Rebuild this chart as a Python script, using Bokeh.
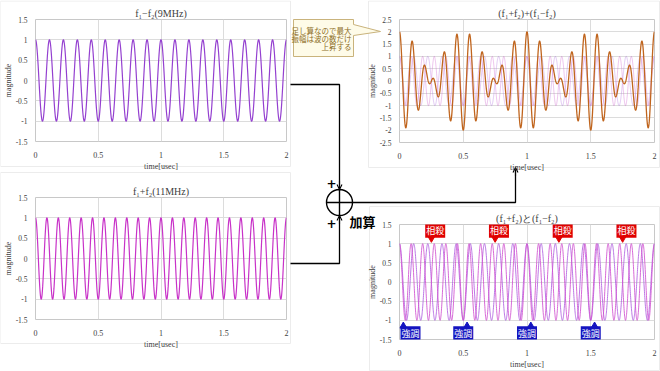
import numpy as np
from bokeh.plotting import figure
from bokeh.layouts import column
from bokeh.models import Range1d, FixedTicker, GridBox, Label, Arrow, OpenHead
from bokeh.embed import file_html
from bokeh.resources import INLINE
from bokeh.core.properties import value

# ---------------- data ----------------
F_DIFF_MHZ = 9.0          # f1 - f2  (9 MHz)
F_SUM_MHZ = 11.0          # f1 + f2  (11 MHz)
T_START_US = 0.0
T_END_US = 2.0
N_SAMPLES = 2001

X_TICKS = [0, 0.5, 1, 1.5, 2]
X_TICK_LABELS = ["0", "0.5", "1", "1.5", "2"]
Y_TICKS_15 = [-1.5, -1, -0.5, 0, 0.5, 1, 1.5]
Y_TICK_LABELS_15 = ["-1.5", "-1", "-0.5", "0", "0.5", "1", "1.5"]
Y_TICKS_25 = [-2.5, -2, -1.5, -1, -0.5, 0, 0.5, 1, 1.5, 2, 2.5]
Y_TICK_LABELS_25 = ["-2.5", "-2", "-1.5", "-1", "-0.5", "0", "0.5", "1", "1.5", "2", "2.5"]

TITLE_DIFF = "f\u2081\u2212f\u2082(9MHz)"
TITLE_SUM = "f\u2081+f\u2082(11MHz)"
TITLE_TOTAL = "(f\u2081+f\u2082)+(f\u2081\u2212f\u2082)"
TITLE_BOTH = "(f\u2081+f\u2082)\u3068(f\u2081\u2212f\u2082)"

CANCEL_T = [0.25, 0.75, 1.25, 1.75]      # 相殺
REINFORCE_T = [0.0, 0.5, 1.0, 1.5]       # 強調
CANCEL_TEXT = "相殺"
REINFORCE_TEXT = "強調"
CALLOUT_LINES = ["足し算なので最大", "振幅は波の数だけ", "上昇する"]

t = np.linspace(T_START_US, T_END_US, N_SAMPLES)
wave_diff = np.cos(2 * np.pi * F_DIFF_MHZ * t)
wave_sum = np.cos(2 * np.pi * F_SUM_MHZ * t)
wave_total = wave_diff + wave_sum

# ---------------- layout helpers ----------------
W, H = 660, 371
SERIF = "Liberation Serif"
CJK = "Noto Sans CJK JP"


def make_chart(frame, ylim, yticks, ylabels, title):
    fx0, fy0, fx1, fy1 = frame
    p = figure(width=W, height=H, output_backend="svg", toolbar_location=None,
               x_range=Range1d(0, 2), y_range=Range1d(*ylim),
               min_border_left=fx0, min_border_right=W - fx1,
               min_border_top=fy0, min_border_bottom=H - fy1)
    p.border_fill_color = None
    p.background_fill_color = "white"
    p.outline_line_color = "#c8c8c8"
    p.title.text = title
    p.title.align = "center"
    p.title.text_font = SERIF
    p.title.text_font_size = "10px"
    p.title.text_font_style = "normal"
    p.title.text_color = "#404040"
    p.title.standoff = 2
    for ax, ticks, labels, name in ((p.xaxis[0], X_TICKS, X_TICK_LABELS, "time[usec]"),
                                    (p.yaxis[0], yticks, ylabels, "magnitude")):
        ax.ticker = FixedTicker(ticks=ticks)
        ax.major_label_overrides = {tk: lb for tk, lb in zip(ticks, labels)}
        ax.major_tick_line_color = None
        ax.minor_tick_line_color = None
        ax.axis_line_color = None
        ax.major_label_text_font = SERIF
        ax.major_label_text_font_size = "8px"
        ax.major_label_text_color = "#404040"
        ax.major_label_standoff = 4
        ax.axis_label = name
        ax.axis_label_text_font = SERIF
        ax.axis_label_text_font_size = "8px"
        ax.axis_label_text_font_style = "normal"
        ax.axis_label_text_color = "#404040"
        ax.axis_label_standoff = 1
    p.yaxis.major_label_standoff = 2
    p.yaxis.axis_label_standoff = 0
    p.yaxis.major_label_text_font_size = "7.5px"
    p.grid.grid_line_color = "#dcdcdc"
    p.grid.grid_line_width = 1
    return p


# ---------------- background diagram ----------------
bg = figure(width=W, height=H, output_backend="svg", toolbar_location=None,
            title=None, x_range=Range1d(0, W), y_range=Range1d(H, 0),
            x_axis_type=None, y_axis_type=None,
            min_border=0, min_border_left=0, min_border_right=0,
            min_border_top=0, min_border_bottom=0)
bg.outline_line_color = None
bg.background_fill_color = "white"
bg.border_fill_color = "white"

# faint chart panels
bg.quad(left=[0, 0, 368, 369], right=[290, 290, 659, 659], top=[0.5, 172, 0.5, 206],
        bottom=[166, 343, 167, 370], fill_color=None, line_color="#ececec", line_width=1)

# connectors
bg.line([290, 339, 339], [84, 84, 188], line_color="black", line_width=1.3)
bg.line([290, 339, 339], [263, 263, 216], line_color="black", line_width=1.3)
bg.line([352, 515, 515], [202, 202, 168], line_color="black", line_width=1.3)
for ys, ye, xe in ((180, 189, 339), (224, 215, 339), (176, 167, 515)):
    bg.add_layout(Arrow(end=OpenHead(size=5, line_width=1.1, line_color="black"),
                        x_start=xe, y_start=ys, x_end=xe, y_end=ye,
                        line_color="black", line_width=1.1))
bg.scatter([339], [202], marker="circle_cross", size=26, fill_color="white",
           line_color="black", line_width=1.4)
bg.text(x=[331, 331], y=[183, 223], text=["+", "+"], text_font=value("DejaVu Sans"),
        text_font_size="12px", text_font_style="bold", text_align="center",
        text_baseline="middle", text_color="black")
bg.text(x=[362], y=[221], text=["加算"], text_font=value(CJK), text_font_size="13px",
        text_font_style="bold", text_align="center", text_baseline="middle", text_color="black")

# callout
bg.patch(x=[293, 353, 353, 380, 353, 353, 293], y=[19, 19, 24, 31, 35, 56, 56],
         fill_color="#fefbe8", line_color="#c9b37c", line_width=1)
bg.text(x=[351, 351, 351], y=[30, 38, 46], text=CALLOUT_LINES, text_font=value(CJK),
        text_font_size="7.5px", text_align="right", text_baseline="middle", text_color="#8c6d1f")

# ---------------- charts ----------------
tl = make_chart((31, 19, 286, 141), (-1.5, 1.5), Y_TICKS_15, Y_TICK_LABELS_15, TITLE_DIFF)
tl.line(t, wave_diff, line_color="#9440d0", line_width=1.2)

bl = make_chart((31, 197, 286, 319), (-1.5, 1.5), Y_TICKS_15, Y_TICK_LABELS_15, TITLE_SUM)
bl.line(t, wave_sum, line_color="#c832c8", line_width=1.2)

tr = make_chart((399, 19, 654, 142), (-2.5, 2.5), Y_TICKS_25, Y_TICK_LABELS_25, TITLE_TOTAL)
tr.line(t, wave_diff, line_color="#b070e0", line_alpha=0.45, line_width=0.8)
tr.line(t, wave_sum, line_color="#d060d0", line_alpha=0.45, line_width=0.8)
tr.line(t, wave_total, line_color="#c0651e", line_width=1.3)

br = make_chart((399, 224, 654, 345), (-1.5, 1.5), Y_TICKS_15, Y_TICK_LABELS_15, TITLE_BOTH)
br.line(t, wave_diff, line_color="#b060e0", line_alpha=0.85, line_width=1)
br.line(t, wave_sum, line_color="#d050d0", line_alpha=0.85, line_width=1)

for tc in CANCEL_T:
    br.add_layout(Label(x=tc + 0.03, y=1.35, text=CANCEL_TEXT, text_color="white", text_font=CJK,
                        text_font_size="9px", text_align="center", text_baseline="middle",
                        background_fill_color="#e00000", padding=1))
br.scatter(x=CANCEL_T, y=[1.14] * len(CANCEL_T), marker="inverted_triangle", size=7,
           fill_color="#e00000", line_color="#e00000")
for tc in REINFORCE_T:
    br.add_layout(Label(x=tc, y=-1.35, x_offset=11 if tc == 0 else 0, text=REINFORCE_TEXT,
                        text_color="white", text_font=CJK,
                        text_font_size="9px", text_align="center", text_baseline="middle",
                        background_fill_color="#1414c0", padding=1))
br.scatter(x=[v + 0.03 for v in REINFORCE_T], y=[-1.15] * len(REINFORCE_T), marker="triangle",
           size=7, fill_color="#1414c0", line_color="#1414c0")

# each figure wrapped in its own column so the grid does not align their frames
layers = [column(f, width=W, height=H) for f in (bg, tl, bl, tr, br)]
grid = GridBox(children=[(lay, 0, 0) for lay in layers])

open("out.html", "w").write(file_html(grid, INLINE))
